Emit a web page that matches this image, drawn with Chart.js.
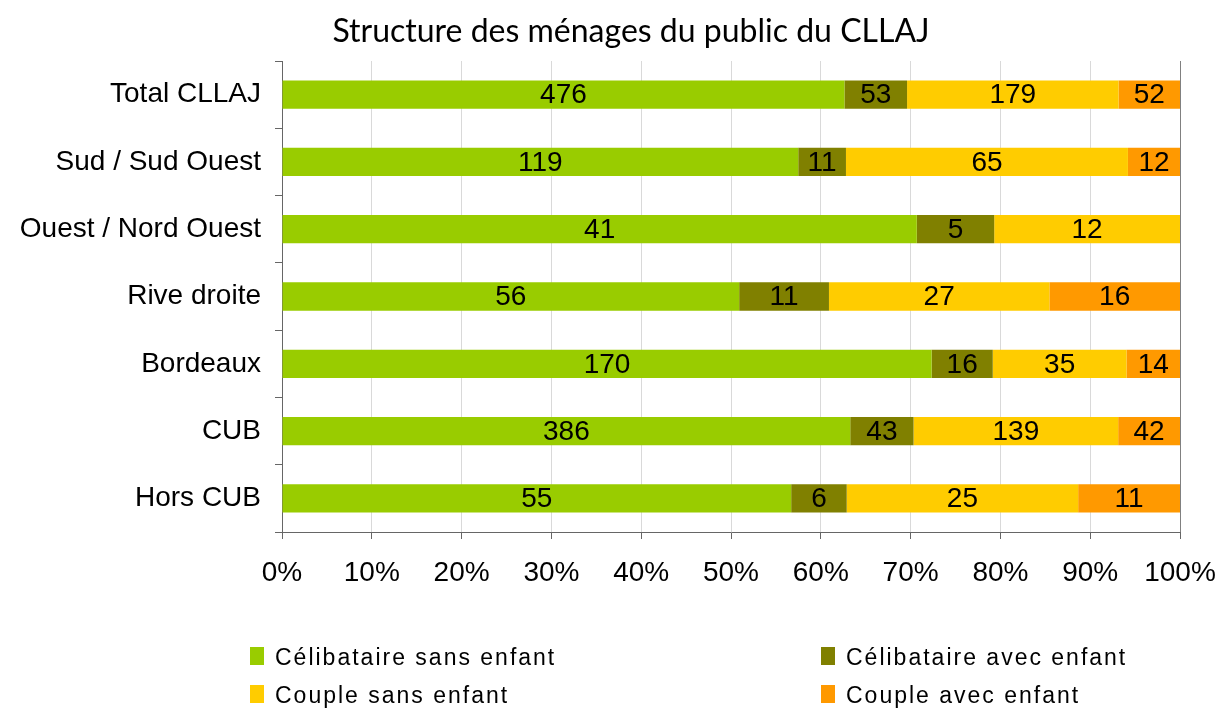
<!DOCTYPE html>
<html>
<head>
<meta charset="utf-8">
<script src="https://cdn.jsdelivr.net/npm/chart.js@4"></script>
<style>
  body { margin: 0; background: #fff; }
  #wrap { position: relative; width: 1220px; height: 711px; }
  #title { position: absolute; left: 231px; width: 800px; top: 11px; text-align: center; font-family: Lato, sans-serif; font-size: 32px; line-height: 38px; color: #000; }
  #legend { position: absolute; left: 0; top: 0; width: 1220px; height: 711px; pointer-events: none; }
  .item { position: absolute; font-family: "Liberation Sans", Arial, sans-serif; font-size: 23px; letter-spacing: 2px; color: #000; line-height: 24px; white-space: nowrap; }
  .item span { position: absolute; left: -25px; top: 2px; width: 14px; height: 18px; }
</style>
</head>
<body>
<div id="wrap">
  <canvas id="chart" width="1220" height="711"></canvas>
  <div id="title"></div>
  <div id="legend"></div>
</div>
<script>
const chartTitle = "Structure des ménages du public du CLLAJ"
const categories = ["Total CLLAJ", "Sud / Sud Ouest", "Ouest / Nord Ouest", "Rive droite", "Bordeaux", "CUB", "Hors CUB"]
const seriesNames = ["Célibataire sans enfant", "Célibataire avec enfant", "Couple sans enfant", "Couple avec enfant"]
const celibSans = [476, 119, 41, 56, 170, 386, 55]
const celibAvec = [53, 11, 5, 11, 16, 43, 6]
const coupleSans = [179, 65, 12, 27, 35, 139, 25]
const coupleAvec = [52, 12, 0, 16, 14, 42, 11]
const colors = ["#99CC00", "#808000", "#FFCC00", "#FF9900"]
const tickLabels = ["0%", "10%", "20%", "30%", "40%", "50%", "60%", "70%", "80%", "90%", "100%"]

const counts = [celibSans, celibAvec, coupleSans, coupleAvec]
const totals = categories.map((c, i) => counts.reduce((s, arr) => s + arr[i], 0))

const font = "'Liberation Sans', Arial, sans-serif"
const axisGray = "#666666"

// draws the raw counts in the middle of each segment
const countLabels = {
  id: 'countLabels',
  afterDatasetsDraw(chart) {
    const ctx = chart.ctx
    ctx.save()
    ctx.font = "28px " + font
    ctx.fillStyle = "#000"
    ctx.textAlign = "center"
    ctx.textBaseline = "middle"
    chart.data.datasets.forEach((ds, di) => {
      chart.getDatasetMeta(di).data.forEach((bar, i) => {
        const n = ds.counts[i]
        if (!n) return
        const p = bar.getProps(['x', 'base', 'y'], true)
        ctx.fillText(String(n), (p.x + p.base) / 2, p.y + 1)
      })
    })
    ctx.restore()
  }
}

const chart = new Chart(document.getElementById("chart"), {
  type: 'bar',
  data: {
    labels: categories,
    datasets: counts.map((arr, k) => ({
      label: seriesNames[k],
      counts: arr,
      data: arr.map((v, i) => v / totals[i] * 100),
      backgroundColor: colors[k],
      borderWidth: 0,
      barPercentage: 0.42,
      categoryPercentage: 1
    }))
  },
  options: {
    indexAxis: 'y',
    responsive: false,
    animation: false,
    layout: { padding: { left: 0, right: 40, top: 61, bottom: 119 } },
    plugins: {
      legend: { display: false },
      tooltip: { enabled: false },
      title: { display: false }
    },
    scales: {
      x: {
        stacked: true,
        min: 0,
        max: 100,
        ticks: {
          stepSize: 10,
          color: "#000",
          font: { family: font, size: 28 },
          padding: 17,
          maxRotation: 0,
          callback: (v, i) => tickLabels[i]
        },
        grid: {
          color: (c) => c.tick && c.tick.value === 100 ? "#808080" : "#d9d9d9",
          tickColor: axisGray,
          tickLength: 7
        },
        border: { color: axisGray },
        afterFit(scale) {
          scale.height = 60
          scale.paddingLeft = 0
          scale.paddingRight = 0
        }
      },
      y: {
        stacked: true,
        ticks: {
          color: "#000",
          font: { family: font, size: 28 },
          padding: 14
        },
        grid: {
          offset: true,
          drawOnChartArea: false,
          color: axisGray,
          tickLength: 7
        },
        border: { color: axisGray },
        afterFit(scale) {
          scale.width = 282
          scale.paddingTop = 0
          scale.paddingBottom = 0
        }
      }
    }
  },
  plugins: [countLabels]
})

document.getElementById("title").textContent = chartTitle

// legend, two columns like the original
const legendPos = [[275, 645], [846, 645], [275, 683], [846, 683]]
const legend = document.getElementById("legend")
seriesNames.forEach((name, k) => {
  const d = document.createElement("div")
  d.className = "item"
  d.style.left = legendPos[k][0] + "px"
  d.style.top = legendPos[k][1] + "px"
  d.innerHTML = `<span style="background:${colors[k]}"></span>${name}`
  legend.appendChild(d)
})
</script>
</body>
</html>
